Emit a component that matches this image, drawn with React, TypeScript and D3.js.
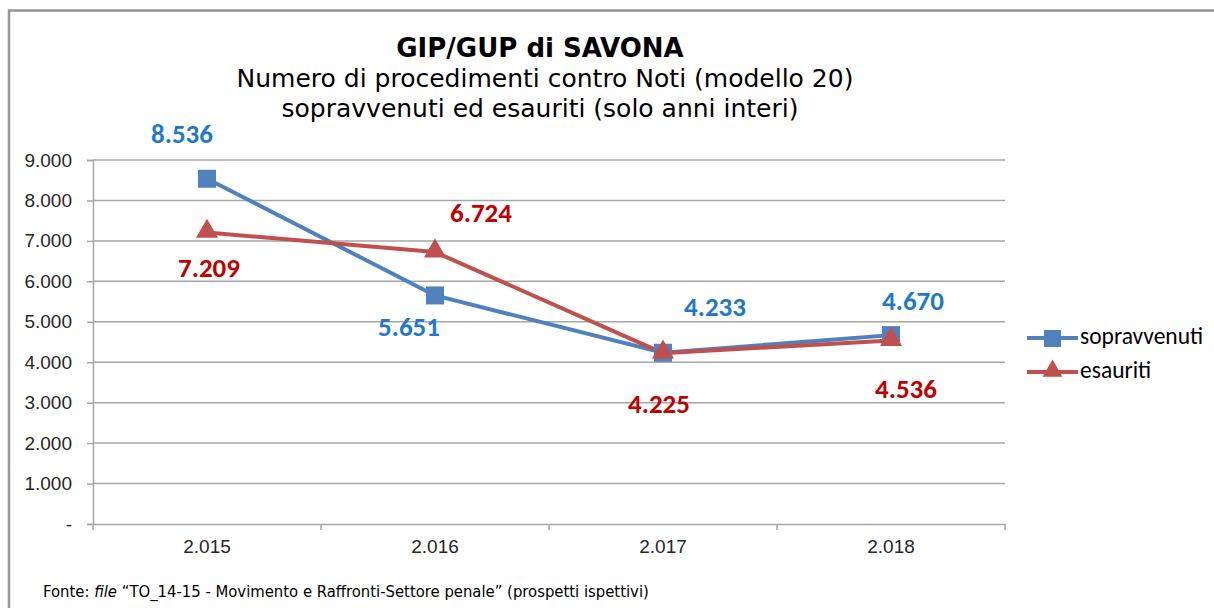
import React, { useEffect, useRef } from "react";
import * as d3 from "d3";

const years = ["2.015", "2.016", "2.017", "2.018"];
const sopravvenuti = [8536, 5651, 4233, 4670];
const esauriti = [7209, 6724, 4225, 4536];
const yTicks = [0, 1000, 2000, 3000, 4000, 5000, 6000, 7000, 8000, 9000];
// label offsets relative to point (dx, dy)
const blueLabelOffsets = [[-25, -42], [-26, 34], [52, -43], [22, -32]];
const redLabelOffsets = [[2, 38], [46, -37], [-4, 53], [15, 51]];

const fmt = (v: number) => (v === 0 ? "-" : d3.format(",")(v).replace(/,/g, "."));

const App = () => {
  const svgRef = useRef<SVGSVGElement>(null);

  useEffect(() => {
    const W = 1214, H = 608;
    const svg = d3.select(svgRef.current).attr("width", W).attr("height", H);
    svg.selectAll("*").remove();

    svg.append("rect").attr("width", W).attr("height", H).attr("fill", "white");
    // outer chart border
    svg.append("path")
      .attr("d", `M9,${H} L9,10.5 L${W},10.5`)
      .attr("fill", "none")
      .attr("stroke", "#969696")
      .attr("stroke-width", 2.5);

    const left = 93, right = 1005, top = 160, bottom = 524;

    const x = d3.scaleBand().domain(years).range([left, right]);
    const y = d3.scaleLinear().domain([0, 9000]).range([bottom, top]);

    // gridlines
    svg.append("g")
      .selectAll("line")
      .data(yTicks.filter(d => d > 0))
      .enter().append("line")
      .attr("x1", left).attr("x2", right)
      .attr("y1", d => y(d)).attr("y2", d => y(d))
      .attr("stroke", "#a6a6a6").attr("stroke-width", 1.5);

    const axisFont = "'Liberation Sans', Arial, sans-serif";

    // y axis
    const yAxis = svg.append("g")
      .attr("transform", `translate(${left},0)`)
      .call(d3.axisLeft(y).tickValues(yTicks).tickSize(6).tickPadding(15).tickFormat(d => fmt(+d)));
    yAxis.selectAll("text")
      .attr("font-family", axisFont)
      .attr("font-size", "19px")
      .attr("fill", "#262626");
    yAxis.selectAll("line,path").attr("stroke", "#a6a6a6").attr("stroke-width", 1.5);

    // x axis
    const xAxis = svg.append("g")
      .attr("transform", `translate(0,${bottom})`)
      .call(d3.axisBottom(x).tickSize(0).tickPadding(16));
    xAxis.select(".domain").attr("stroke", "#a6a6a6").attr("stroke-width", 1.5);
    xAxis.selectAll("text")
      .attr("font-family", axisFont)
      .attr("font-size", "19px")
      .attr("fill", "#262626");
    // tick marks at category boundaries
    const bounds = years.map(d => x(d)!).concat([right]);
    svg.append("g")
      .selectAll("line")
      .data(bounds)
      .enter().append("line")
      .attr("x1", d => d).attr("x2", d => d)
      .attr("y1", bottom).attr("y2", bottom + 6)
      .attr("stroke", "#a6a6a6").attr("stroke-width", 1.5);

    const cx = (i: number) => x(years[i])! + x.bandwidth() / 2;

    const line = d3.line<number>()
      .x((d, i) => cx(i))
      .y(d => y(d));

    svg.append("path").datum(sopravvenuti)
      .attr("fill", "none").attr("stroke", "#4f81bd").attr("stroke-width", 4)
      .attr("d", line);
    svg.append("path").datum(esauriti)
      .attr("fill", "none").attr("stroke", "#c0504d").attr("stroke-width", 4)
      .attr("d", line);

    // markers
    svg.append("g").selectAll("rect")
      .data(sopravvenuti)
      .enter().append("rect")
      .attr("x", (d, i) => cx(i) - 9).attr("y", d => y(d) - 9)
      .attr("width", 18).attr("height", 18)
      .attr("fill", "#4f81bd");
    const tri = d3.symbol().type(d3.symbolTriangle).size(210);
    svg.append("g").selectAll("path")
      .data(esauriti)
      .enter().append("path")
      .attr("d", tri)
      .attr("transform", (d, i) => `translate(${cx(i)},${y(d) - 1})`)
      .attr("fill", "#c0504d");

    // data labels
    const labelFont = "Carlito, Calibri, 'Open Sans', sans-serif";
    svg.append("g").selectAll("text")
      .data(sopravvenuti)
      .enter().append("text")
      .attr("x", (d, i) => cx(i) + blueLabelOffsets[i][0])
      .attr("y", (d, i) => y(d) + blueLabelOffsets[i][1])
      .attr("text-anchor", "middle").attr("dominant-baseline", "middle")
      .attr("font-family", labelFont).attr("font-weight", "bold")
      .attr("font-size", "27px").attr("fill", "#1f78c8")
      .text(d => fmt(d));
    svg.append("g").selectAll("text")
      .data(esauriti)
      .enter().append("text")
      .attr("x", (d, i) => cx(i) + redLabelOffsets[i][0])
      .attr("y", (d, i) => y(d) + redLabelOffsets[i][1])
      .attr("text-anchor", "middle").attr("dominant-baseline", "middle")
      .attr("font-family", labelFont).attr("font-weight", "bold")
      .attr("font-size", "27px").attr("fill", "#c00000")
      .text(d => fmt(d));

    // titles
    const titleFont = "'DejaVu Sans', Verdana, sans-serif";
    svg.append("text")
      .attr("x", 540).attr("y", 57).attr("text-anchor", "middle")
      .attr("font-family", titleFont).attr("font-weight", "bold")
      .attr("font-size", "26px").attr("fill", "#000")
      .text("GIP/GUP di SAVONA");
    svg.append("text")
      .attr("x", 545).attr("y", 87).attr("text-anchor", "middle")
      .attr("font-family", titleFont)
      .attr("font-size", "25px").attr("fill", "#000")
      .text("Numero di procedimenti contro Noti (modello 20)");
    svg.append("text")
      .attr("x", 540).attr("y", 117).attr("text-anchor", "middle")
      .attr("font-family", titleFont)
      .attr("font-size", "25px").attr("fill", "#000")
      .text("sopravvenuti ed esauriti (solo anni interi)");

    // legend
    const legend = svg.append("g").attr("transform", "translate(1027,338)");
    const items = [
      { name: "sopravvenuti", color: "#4f81bd", marker: "square" },
      { name: "esauriti", color: "#c0504d", marker: "triangle" },
    ];
    items.forEach((it, i) => {
      const g = legend.append("g").attr("transform", `translate(0,${i * 34})`);
      g.append("line").attr("x1", 0).attr("x2", 51).attr("y1", 0).attr("y2", 0)
        .attr("stroke", it.color).attr("stroke-width", 4);
      if (it.marker === "square") {
        g.append("rect").attr("x", 17).attr("y", -8).attr("width", 17).attr("height", 17).attr("fill", it.color);
      } else {
        g.append("path").attr("d", d3.symbol().type(d3.symbolTriangle).size(170)())
          .attr("transform", "translate(25.5,-1)").attr("fill", it.color);
      }
      g.append("text").attr("x", 53).attr("y", 0)
        .attr("dominant-baseline", "middle")
        .attr("font-family", labelFont)
        .attr("font-size", "23.5px").attr("fill", "#000")
        .text(it.name);
    });

    // source note
    const note = svg.append("text")
      .attr("x", 43).attr("y", 597)
      .attr("font-family", "'DejaVu Sans Condensed', 'DejaVu Sans', sans-serif")
      .attr("font-size", "16.5px").attr("fill", "#000");
    note.append("tspan").text("Fonte: ");
    note.append("tspan").attr("font-style", "italic").text("file");
    note.append("tspan").text(" \u201CTO_14-15 - Movimento e Raffronti-Settore penale\u201D (prospetti ispettivi)");
  }, []);

  return (
    <div style={{ position: "absolute", left: 0, top: 0 }}>
      <svg ref={svgRef}></svg>
    </div>
  );
};

export default App;
